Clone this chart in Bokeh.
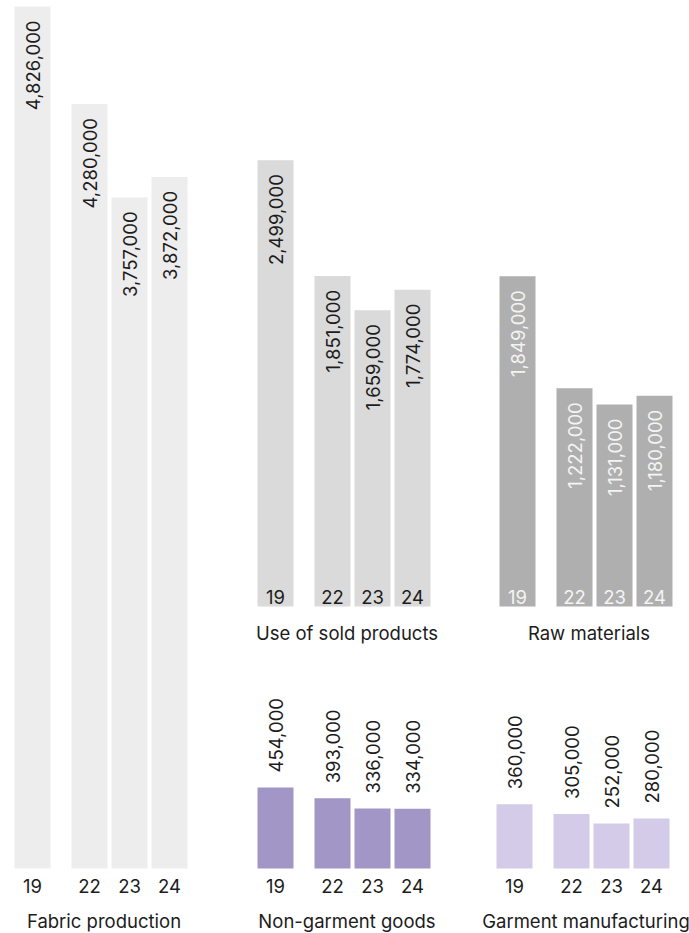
from bokeh.plotting import figure
from bokeh.models import Range1d
from bokeh.embed import file_html
from bokeh.resources import INLINE
from bokeh.core.properties import value
import math

# ---- data ----
years = ["19", "22", "23", "24"]
fabric_production = [4826000, 4280000, 3757000, 3872000]
use_of_sold_products = [2499000, 1851000, 1659000, 1774000]
raw_materials = [1849000, 1222000, 1131000, 1180000]
non_garment_goods = [454000, 393000, 336000, 334000]
garment_manufacturing = [360000, 305000, 252000, 280000]
titles = ["Fabric production", "Use of sold products", "Raw materials",
          "Non-garment goods", "Garment manufacturing"]

# ---- layout ----
W, H = 689, 933
BASE_PX = 868          # lower baseline, px from top of canvas
TOP_PX = 6             # top of the tallest bar
UPPER_BASE_PX = 606    # upper baseline
PX = max(fabric_production) / (BASE_PX - TOP_PX)      # data units per pixel
UPPER = (BASE_PX - UPPER_BASE_PX) * PX
SLOTS = [0, 57, 97, 137]
BW = 36
FONT = "Inter"
FS = "18.5px"
DARK = "#1c1c1c"

p = figure(width=W, height=H, x_range=Range1d(0, W),
           y_range=Range1d(-(H - BASE_PX) * PX, BASE_PX * PX),
           output_backend="svg", toolbar_location=None, min_border=0,
           x_axis_location=None, y_axis_location=None)
p.grid.visible = False
p.outline_line_color = None
p.background_fill_color = "white"
p.border_fill_color = "white"

groups = [
    dict(vals=fabric_production, left=14, base=0, color="#ededed", inside=True,
         yr_inside=False, tcol=DARK, ycol=DARK, title=titles[0]),
    dict(vals=use_of_sold_products, left=257, base=UPPER, color="#dadada", inside=True,
         yr_inside=True, tcol=DARK, ycol=DARK, title=titles[1]),
    dict(vals=raw_materials, left=499, base=UPPER, color="#afafaf", inside=True,
         yr_inside=True, tcol="#f4f4f4", ycol="#f4f4f4", title=titles[2]),
    dict(vals=non_garment_goods, left=257, base=0, color="#a196c6", inside=False,
         yr_inside=False, tcol=DARK, ycol=DARK, title=titles[3]),
    dict(vals=garment_manufacturing, left=496, base=0, color="#d3cbe7", inside=False,
         yr_inside=False, tcol=DARK, ycol=DARK, title=titles[4]),
]

for g in groups:
    xs = [g["left"] + s + BW / 2 for s in SLOTS]
    base = g["base"]
    tops = [base + v for v in g["vals"]]
    p.vbar(x=xs, bottom=base, top=tops, width=BW, fill_color=g["color"], line_color=None)
    labels = [f"{v:,}" for v in g["vals"]]
    if g["inside"]:
        ly = [t - 14 * PX for t in tops]
        align = "right"
    else:
        ly = [t + 15 * PX for t in tops]
        align = "left"
    p.text(x=xs, y=ly, text=labels, angle=math.pi / 2, text_align=align,
           text_baseline="middle", text_font=value(FONT), text_font_size=FS,
           text_color=g["tcol"])
    if g["yr_inside"]:
        yy = base + 9.5 * PX
        ty = base - 26.5 * PX
    else:
        yy = base - 17 * PX
        ty = base - 52 * PX
    p.text(x=xs, y=[yy] * 4, text=years, text_align="center", text_baseline="middle",
           text_font=value(FONT), text_font_size=FS, text_color=g["ycol"])
    cx = g["left"] + (SLOTS[-1] + BW) / 2 + 3
    p.text(x=[cx], y=[ty], text=[g["title"]], text_align="center", text_baseline="middle",
           text_font=value(FONT), text_font_size=FS, text_color=DARK)

open("out.html", "w").write(file_html(p, INLINE))
